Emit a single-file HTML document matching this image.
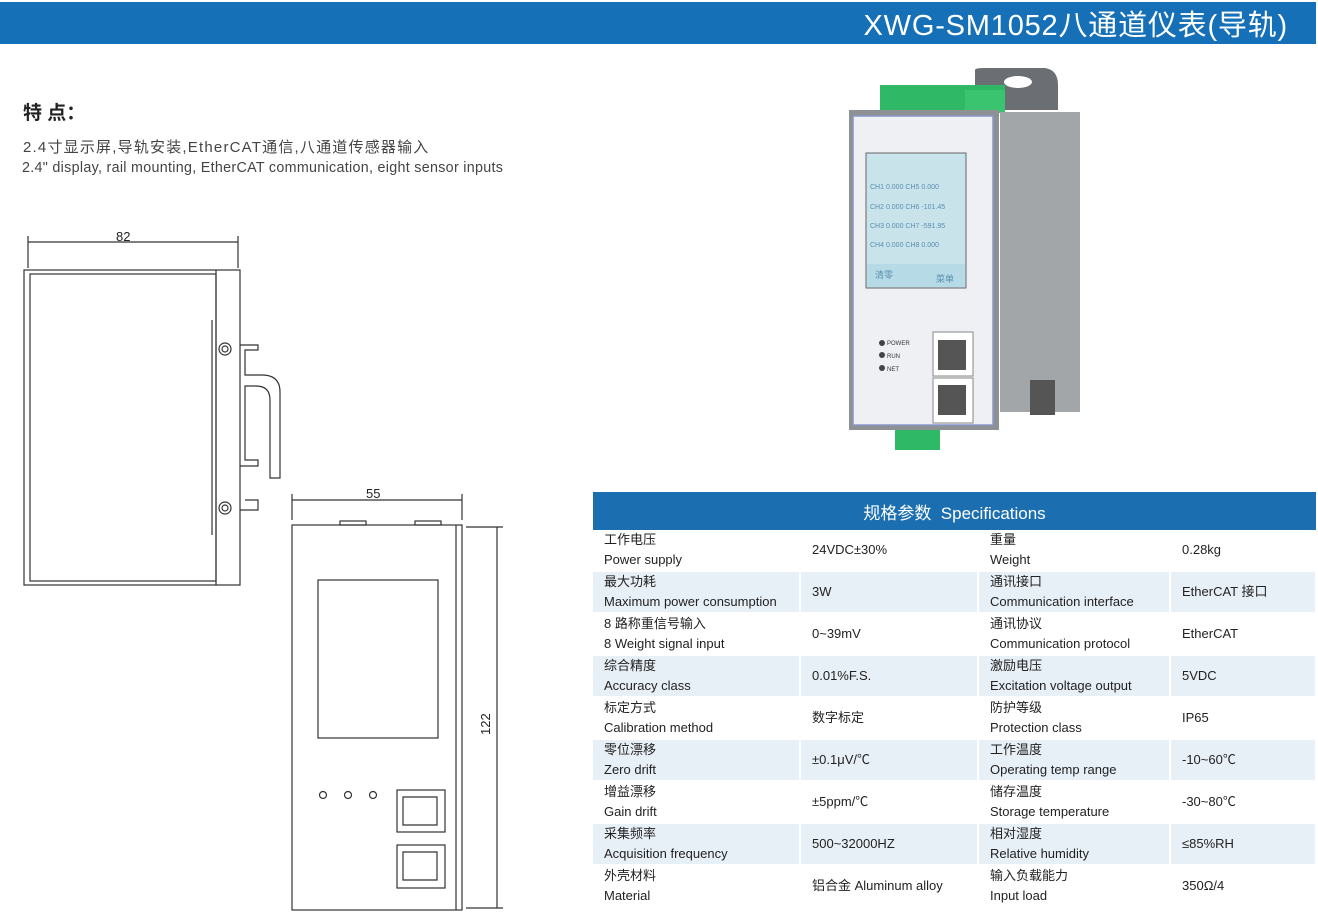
<!DOCTYPE html>
<html><head><meta charset="utf-8"><style>
body{margin:0;width:1318px;height:916px;background:#fff;position:relative;overflow:hidden;font-family:"Liberation Sans","Noto Sans CJK SC",sans-serif;color:#333}
.hdr{position:absolute;left:0;top:2px;width:1316px;height:42px;background:#1670b8}
.hdr span{position:absolute;right:28px;top:0px;color:#fff;font-size:29px;font-family:"Liberation Sans","Noto Sans CJK SC",sans-serif;letter-spacing:0.8px}
.t{position:absolute;white-space:nowrap}
table{position:absolute;left:593px;top:492px;width:723px;border-collapse:collapse;font-size:13px;color:#222;table-layout:fixed}
th{height:38px;padding:0;background:#1b6fb1;color:#fff;font-weight:normal;font-size:17px}
td{height:40px;padding:0 0 0 11px;line-height:20px;border-right:2px solid #fff;border-bottom:2px solid #fff;vertical-align:middle;white-space:nowrap;overflow:hidden}
tr.a td{background:#e8f0f7}
</style></head><body>
<div class="hdr"><span>XWG-SM1052八通道仪表(导轨)</span></div>
<div class="t" style="left:23px;top:98px;font-size:19px;font-weight:bold;color:#222">特 点：</div>
<div class="t" style="left:23px;top:136px;font-size:15px;letter-spacing:1.2px;color:#444">2.4寸显示屏,导轨安装,EtherCAT通信,八通道传感器输入</div>
<div class="t" style="left:22px;top:160px;font-size:14.3px;letter-spacing:0.3px;color:#444">2.4" display, rail mounting, EtherCAT communication, eight sensor inputs</div>

<svg style="position:absolute;left:0;top:0" width="1318" height="916" fill="none" stroke="#333" stroke-width="1.2">
<line x1="28" y1="236" x2="28" y2="268"/><line x1="238" y1="236" x2="238" y2="268"/>
<line x1="28" y1="242" x2="238" y2="242"/>
<text x="116" y="241" font-size="13" fill="#222" stroke="none" font-family="Liberation Sans">82</text>
<rect x="24" y="270" width="216" height="315"/>
<rect x="30" y="274" width="186" height="307"/>
<line x1="216" y1="270" x2="216" y2="585"/>
<line x1="212" y1="320" x2="212" y2="535"/>
<circle cx="225" cy="349" r="6"/><circle cx="225" cy="349" r="3"/>
<circle cx="225" cy="508" r="6"/><circle cx="225" cy="508" r="3"/>
<path d="M240 345 H258 V350 H245 V375 H262 Q280 375 280 392 V478 H270 V400 Q270 386 256 386 H245 V460 H258 V466 H240"/>
<path d="M245 500 H258 V510 H240"/>
<line x1="292" y1="494" x2="292" y2="520"/><line x1="462" y1="494" x2="462" y2="520"/>
<line x1="292" y1="500" x2="462" y2="500"/>
<text x="366" y="498" font-size="13" fill="#222" stroke="none" font-family="Liberation Sans">55</text>
<rect x="292" y="525" width="170" height="385"/>
<line x1="456" y1="525" x2="456" y2="910"/>
<rect x="340" y="521" width="26" height="4"/><rect x="415" y="521" width="26" height="4"/>
<line x1="466" y1="527" x2="503" y2="527"/><line x1="466" y1="908" x2="503" y2="908"/>
<line x1="497" y1="527" x2="497" y2="908"/>
<text x="490" y="735" font-size="13" fill="#222" stroke="none" font-family="Liberation Sans" transform="rotate(-90 490 735)">122</text>
<rect x="318" y="580" width="120" height="158"/>
<circle cx="323" cy="795" r="3.5"/><circle cx="348" cy="795" r="3.5"/><circle cx="373" cy="795" r="3.5"/>
<rect x="397" y="790" width="48" height="42"/><path d="M403 797 H437 V825 H403 Z"/>
<rect x="397" y="845" width="48" height="43"/><path d="M403 852 H437 V880 H403 Z"/>
<g stroke="none">
<path d="M975 70 Q975 68 985 68 H1045 Q1058 70 1058 85 V110 H975 Z" fill="#6b6e72"/>
<ellipse cx="1018" cy="82" rx="14" ry="6" fill="#fff"/>
<rect x="880" y="85" width="125" height="28" fill="#2fb865"/>
<rect x="965" y="90" width="40" height="23" fill="#3bc470"/>
<rect x="1000" y="112" width="80" height="300" fill="#a3a6a9"/>
<rect x="1030" y="380" width="25" height="35" fill="#555"/>
<rect x="895" y="420" width="45" height="30" fill="#2fb865"/>
<rect x="849" y="110" width="150" height="320" fill="#8e9194"/>
<rect x="853" y="116" width="140" height="309" fill="#eef0f4" stroke="#8a95c8" stroke-width="1.5"/>
<rect x="866" y="153" width="100" height="135" fill="#c9e3ea" stroke="#666" stroke-width="1"/>
<rect x="867" y="264" width="98" height="23" fill="#b7dbe6"/>
<rect x="933" y="332" width="40" height="44" fill="#fff" stroke="#999"/>
<rect x="938" y="340" width="28" height="30" fill="#555"/>
<rect x="933" y="378" width="40" height="45" fill="#fff" stroke="#999"/>
<rect x="938" y="385" width="28" height="30" fill="#555"/>
<circle cx="882" cy="343" r="3" fill="#444"/><circle cx="882" cy="355" r="3" fill="#444"/><circle cx="882" cy="368" r="3" fill="#444"/>
</g>
<g fill="#5a8fb0" stroke="none" font-size="7" font-family="Liberation Sans">
<text x="870" y="189">CH1 0.000 CH5 0.000</text><text x="870" y="209">CH2 0.000 CH6 -101.45</text>
<text x="870" y="228">CH3 0.000 CH7 -591.95</text><text x="870" y="247">CH4 0.000 CH8 0.000</text>
<text x="875" y="278" font-size="9" font-family="Noto Sans CJK SC">清零</text><text x="936" y="282" font-size="9" font-family="Noto Sans CJK SC">菜单</text>
</g>
<g fill="#333" stroke="none" font-size="6" font-family="Liberation Sans">
<text x="887" y="345">POWER</text><text x="887" y="358">RUN</text><text x="887" y="371">NET</text>
</g>
</svg>

<table>
<colgroup><col style="width:207px"><col style="width:178px"><col style="width:192px"><col style="width:146px"></colgroup>
<tr><th colspan="4">规格参数&nbsp; Specifications</th></tr>
<tr><td>工作电压<br>Power supply</td><td>24VDC±30%</td><td>重量<br>Weight</td><td>0.28kg</td></tr>
<tr class="a"><td>最大功耗<br>Maximum power consumption</td><td>3W</td><td>通讯接口<br>Communication interface</td><td>EtherCAT 接口</td></tr>
<tr><td>8 路称重信号输入<br>8 Weight signal input</td><td>0~39mV</td><td>通讯协议<br>Communication protocol</td><td>EtherCAT</td></tr>
<tr class="a"><td>综合精度<br>Accuracy class</td><td>0.01%F.S.</td><td>激励电压<br>Excitation voltage output</td><td>5VDC</td></tr>
<tr><td>标定方式<br>Calibration method</td><td>数字标定</td><td>防护等级<br>Protection class</td><td>IP65</td></tr>
<tr class="a"><td>零位漂移<br>Zero drift</td><td>±0.1μV/℃</td><td>工作温度<br>Operating temp range</td><td>-10~60℃</td></tr>
<tr><td>增益漂移<br>Gain drift</td><td>±5ppm/℃</td><td>储存温度<br>Storage temperature</td><td>-30~80℃</td></tr>
<tr class="a"><td>采集频率<br>Acquisition frequency</td><td>500~32000HZ</td><td>相对湿度<br>Relative humidity</td><td>≤85%RH</td></tr>
<tr><td>外壳材料<br>Material</td><td>铝合金 Aluminum alloy</td><td>输入负载能力<br>Input load</td><td>350Ω/4</td></tr>
</table>
</body></html>
